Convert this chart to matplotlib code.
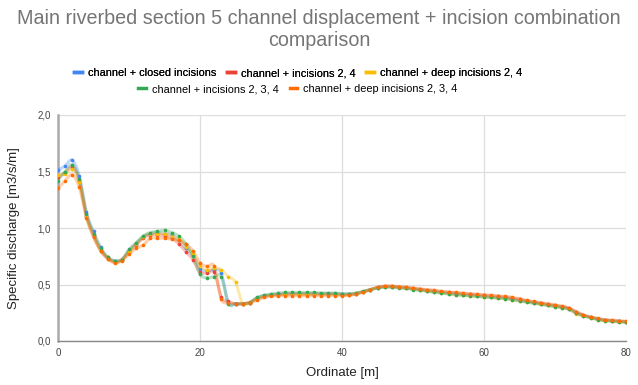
import numpy as np
import matplotlib
matplotlib.use("Agg")
import matplotlib.pyplot as plt
from matplotlib.lines import Line2D

# ordinate [m]
ordinate = list(range(0, 81))

closed = [1.51, 1.55, 1.60, 1.46, 1.14, 0.97, 0.83, 0.74, 0.71, 0.72,
          0.80, 0.86, 0.92, 0.95, 0.96, 0.95, 0.94, 0.89, 0.82, 0.76,
          0.64, 0.62, 0.63, 0.60, 0.34, 0.33, 0.33, 0.34,
          0.38, 0.40, 0.41, 0.415, 0.42, 0.42, 0.42, 0.42, 0.42, 0.42, 0.42, 0.42,
          0.415, 0.415, 0.42, 0.435, 0.455, 0.47, 0.48, 0.48, 0.475, 0.47,
          0.46, 0.455, 0.445, 0.44, 0.43, 0.425, 0.42, 0.41, 0.405, 0.40,
          0.395, 0.39, 0.385, 0.38, 0.37, 0.36, 0.35, 0.34, 0.33, 0.32,
          0.31, 0.30, 0.285, 0.25, 0.225, 0.21, 0.195, 0.185, 0.18, 0.175, 0.17]

inc_24 = [1.45, 1.49, 1.54, 1.42, 1.11, 0.93, 0.80, 0.73, 0.70, 0.72,
          0.79, 0.85, 0.91, 0.94, 0.94, 0.93, 0.91, 0.86, 0.79, 0.72,
          0.61, 0.60, 0.61, 0.39, 0.35, 0.33, 0.33, 0.34,
          0.375, 0.395, 0.405, 0.41, 0.415, 0.415, 0.415, 0.415, 0.415, 0.415, 0.415, 0.415,
          0.41, 0.41, 0.42, 0.435, 0.455, 0.475, 0.485, 0.485, 0.48, 0.475,
          0.465, 0.46, 0.45, 0.445, 0.435, 0.43, 0.425, 0.42, 0.415, 0.41,
          0.405, 0.40, 0.395, 0.39, 0.38, 0.37, 0.355, 0.345, 0.335, 0.325,
          0.315, 0.305, 0.29, 0.255, 0.23, 0.21, 0.195, 0.185, 0.18, 0.175, 0.17]

deep_24 = [1.47, 1.48, 1.52, 1.41, 1.11, 0.94, 0.81, 0.74, 0.70, 0.72,
           0.79, 0.86, 0.92, 0.95, 0.95, 0.95, 0.93, 0.90, 0.83, 0.77,
           0.66, 0.63, 0.65, 0.63, 0.57, 0.52, 0.33, 0.34,
           0.375, 0.395, 0.405, 0.41, 0.415, 0.415, 0.415, 0.415, 0.415, 0.415, 0.415, 0.415,
           0.41, 0.41, 0.42, 0.435, 0.455, 0.47, 0.48, 0.48, 0.475, 0.47,
           0.46, 0.45, 0.44, 0.435, 0.425, 0.42, 0.41, 0.405, 0.40, 0.395,
           0.39, 0.385, 0.38, 0.375, 0.365, 0.355, 0.345, 0.335, 0.325, 0.315,
           0.305, 0.295, 0.28, 0.24, 0.22, 0.205, 0.19, 0.18, 0.175, 0.17, 0.165]

inc_234 = [1.42, 1.50, 1.56, 1.43, 1.12, 0.95, 0.82, 0.74, 0.71, 0.72,
           0.81, 0.87, 0.93, 0.96, 0.97, 0.98, 0.96, 0.93, 0.86, 0.75,
           0.59, 0.56, 0.57, 0.57, 0.33, 0.33, 0.33, 0.34,
           0.385, 0.405, 0.415, 0.425, 0.43, 0.43, 0.43, 0.43, 0.43, 0.425, 0.425, 0.425,
           0.42, 0.42, 0.425, 0.44, 0.455, 0.47, 0.475, 0.475, 0.47, 0.465,
           0.455, 0.45, 0.44, 0.43, 0.425, 0.415, 0.41, 0.405, 0.40, 0.395,
           0.39, 0.385, 0.38, 0.375, 0.365, 0.355, 0.345, 0.335, 0.325, 0.315,
           0.305, 0.295, 0.28, 0.245, 0.225, 0.205, 0.19, 0.18, 0.175, 0.17, 0.165]

deep_234 = [1.35, 1.42, 1.47, 1.36, 1.09, 0.92, 0.80, 0.73, 0.69, 0.71,
            0.77, 0.82, 0.85, 0.91, 0.91, 0.91, 0.90, 0.89, 0.86, 0.80,
            0.69, 0.66, 0.66, 0.37, 0.34, 0.33, 0.33, 0.34,
            0.36, 0.385, 0.395, 0.40, 0.40, 0.40, 0.40, 0.40, 0.40, 0.40, 0.40, 0.40,
            0.40, 0.405, 0.415, 0.435, 0.455, 0.475, 0.485, 0.485, 0.48, 0.475,
            0.47, 0.46, 0.455, 0.45, 0.44, 0.435, 0.43, 0.425, 0.42, 0.415,
            0.41, 0.405, 0.40, 0.395, 0.385, 0.375, 0.36, 0.35, 0.34, 0.33,
            0.32, 0.31, 0.29, 0.26, 0.23, 0.215, 0.20, 0.19, 0.185, 0.18, 0.175]

labels = ["channel + closed incisions", "channel + incisions 2, 4",
          "channel + deep incisions 2, 4", "channel + incisions 2, 3, 4",
          "channel + deep incisions 2, 3, 4"]
colors = ["#4285F4", "#EA4335", "#FBBC04", "#34A853", "#FF6D01"]
series = [closed, inc_24, deep_24, inc_234, deep_234]


def catmull(x, y, n=10):
    # smooth curve through the points (Catmull-Rom)
    x = np.asarray(x, float)
    y = np.asarray(y, float)
    px = np.concatenate([[2 * x[0] - x[1]], x, [2 * x[-1] - x[-2]]])
    py = np.concatenate([[2 * y[0] - y[1]], y, [2 * y[-1] - y[-2]]])
    t = np.linspace(0, 1, n, endpoint=False)[:, None]
    out_x, out_y = [], []
    for i in range(1, len(px) - 2):
        for p, out in ((px, out_x), (py, out_y)):
            p0, p1, p2, p3 = p[i - 1], p[i], p[i + 1], p[i + 2]
            v = 0.5 * (2 * p1 + (-p0 + p2) * t + (2 * p0 - 5 * p1 + 4 * p2 - p3) * t ** 2
                       + (-p0 + 3 * p1 - 3 * p2 + p3) * t ** 3)
            out.append(v.ravel())
    out_x.append([x[-1]])
    out_y.append([y[-1]])
    return np.concatenate(out_x), np.concatenate(out_y)


plt.rcParams['font.family'] = ['Liberation Sans', 'DejaVu Sans']

fig = plt.figure(figsize=(6.38, 3.85), dpi=100)
ax = fig.add_axes([58 / 638, 1 - 341 / 385, (626 - 58) / 638, (341 - 115) / 385])

for vals, color in zip(series, colors):
    sx, sy = catmull(ordinate, vals)
    ax.plot(sx, sy, color=color, lw=2.2, alpha=0.33, solid_capstyle='round', zorder=3)
    ax.plot(ordinate, vals, 'o', ms=2.6, mew=0, color=color, zorder=4)

ax.set_xlim(0, 80)
ax.set_ylim(0, 2.0)
ax.set_xticks([0, 20, 40, 60, 80])
ax.set_yticks([0, 0.5, 1.0, 1.5, 2.0])
ax.set_yticklabels([f"{v:.1f}".replace('.', ',') for v in [0, 0.5, 1.0, 1.5, 2.0]])
ax.grid(True, color='#dddddd', lw=0.9, zorder=0)
ax.tick_params(length=0, labelsize=7, colors='#444444', pad=5)
for s in ['top', 'right']:
    ax.spines[s].set_visible(False)
ax.spines['left'].set_color('#aaaaaa')
ax.spines['left'].set_linewidth(1.8)
ax.spines['bottom'].set_color('#888888')
ax.spines['bottom'].set_linewidth(1.0)

fig.text(0.5, 1 - 30 / 385,
         "Main riverbed section 5 channel displacement + incision combination\ncomparison",
         ha='center', va='center', fontsize=14.2, color='#757575', linespacing=1.2)
fig.text(14 / 638, 1 - 228 / 385, "Specific discharge [m3/s/m]", rotation=90,
         ha='center', va='center', fontsize=9.5, color='#222222')
fig.text(342 / 638, 1 - 373 / 385, "Ordinate [m]", ha='center', va='center',
         fontsize=9.5, color='#222222')

handles = [Line2D([], [], color=c, lw=2.5) for c in colors]
leg_kw = dict(loc='center', frameon=False, fontsize=7.9, handlelength=0.7,
              handletextpad=0.55, columnspacing=1.0, borderpad=0, borderaxespad=0)
leg1 = fig.legend(handles[:3], labels[:3], bbox_to_anchor=(298 / 638, 1 - 73 / 385),
                  ncol=3, **leg_kw)
fig.legend(handles[3:], labels[3:], bbox_to_anchor=(298 / 638, 1 - 89 / 385),
           ncol=2, **leg_kw)
fig.add_artist(leg1)

fig.savefig("out.png", dpi=100)
